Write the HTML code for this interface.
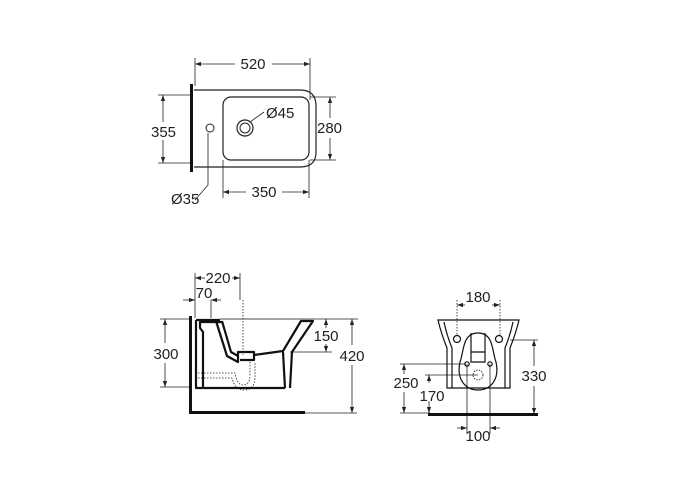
<!DOCTYPE html>
<html><head><meta charset="utf-8"><style>
html,body{margin:0;padding:0;background:#fff;}
svg{display:block;}
text{font-family:"Liberation Sans",sans-serif;font-size:15px;fill:#222;}
</style></head><body>
<svg width="700" height="500" viewBox="0 0 700 500" xmlns="http://www.w3.org/2000/svg">
<defs>
<marker id="a" viewBox="0 0 10 10" refX="10" refY="5" markerWidth="6" markerHeight="6" orient="auto-start-reverse" markerUnits="userSpaceOnUse"><path d="M0,1.5 L10,5 L0,8.5 Z" fill="#222"/></marker>
</defs>
<g stroke="#222" stroke-width="0.8" fill="none">
<!-- TOP VIEW -->
<line x1="195" y1="58" x2="195" y2="86"/>
<line x1="310" y1="58" x2="310" y2="100"/>
<line x1="195" y1="64" x2="235" y2="64" marker-start="url(#a)"/>
<line x1="272" y1="64" x2="310" y2="64" marker-end="url(#a)"/>
<line x1="158" y1="95" x2="190" y2="95"/>
<line x1="158" y1="163" x2="190" y2="163"/>
<line x1="163" y1="95" x2="163" y2="122" marker-start="url(#a)"/>
<line x1="163" y1="140" x2="163" y2="163" marker-end="url(#a)"/>
<line x1="310" y1="97" x2="336" y2="97"/>
<line x1="310" y1="160" x2="336" y2="160"/>
<line x1="330" y1="97" x2="330" y2="118" marker-start="url(#a)"/>
<line x1="330" y1="138" x2="330" y2="160" marker-end="url(#a)"/>
<line x1="223" y1="160" x2="223" y2="198"/>
<line x1="309" y1="160" x2="309" y2="198"/>
<line x1="223" y1="192" x2="246" y2="192" marker-start="url(#a)"/>
<line x1="282" y1="192" x2="309" y2="192" marker-end="url(#a)"/>
<path d="M194,90 L300,90 Q316,90 316,106 L316,152 Q316,167 300,167 L194,167" stroke-width="1.2"/>
<rect x="223" y="97" width="86" height="63" rx="8" stroke-width="1.2"/>
<circle cx="245" cy="128" r="8" stroke-width="1.2"/>
<circle cx="245" cy="128" r="5" stroke-width="1"/>
<line x1="250" y1="122" x2="264" y2="112"/>
<circle cx="210" cy="128" r="4" stroke-width="1"/>
<path d="M208,133 L208,185 L195,200"/>
</g>
<rect x="190" y="84" width="3" height="88" fill="#111"/>
<text x="253" y="69" text-anchor="middle">520</text>
<text x="151" y="137">355</text>
<text x="317" y="133">280</text>
<text x="264" y="197" text-anchor="middle">350</text>
<text x="266" y="118">Ø45</text>
<text x="171" y="204">Ø35</text>

<!-- SIDE VIEW -->
<g stroke="#222" stroke-width="0.8" fill="none">
<line x1="195" y1="273" x2="195" y2="318"/>
<line x1="240" y1="273" x2="240" y2="300"/>
<line x1="243" y1="300" x2="243" y2="355" stroke-dasharray="1.5,1.5"/>
<line x1="195" y1="278" x2="205" y2="278" marker-start="url(#a)"/>
<line x1="232" y1="278" x2="240" y2="278" marker-end="url(#a)"/>
<line x1="183" y1="300" x2="195" y2="300" marker-end="url(#a)"/>
<line x1="221" y1="300" x2="211" y2="300" marker-end="url(#a)"/>
<line x1="211" y1="300" x2="211" y2="318"/>
<line x1="160" y1="319" x2="190" y2="319"/>
<line x1="160" y1="387" x2="190" y2="387"/>
<line x1="165" y1="319" x2="165" y2="343" marker-start="url(#a)"/>
<line x1="165" y1="363" x2="165" y2="387" marker-end="url(#a)"/>
<line x1="300" y1="319" x2="358" y2="319"/>
<line x1="290" y1="352" x2="332" y2="352"/>
<line x1="326" y1="319" x2="326" y2="328" marker-start="url(#a)"/>
<line x1="326" y1="344" x2="326" y2="352" marker-end="url(#a)"/>
<line x1="352" y1="319" x2="352" y2="345" marker-start="url(#a)"/>
<line x1="352" y1="365" x2="352" y2="413" marker-end="url(#a)"/>
<line x1="305" y1="413" x2="357" y2="413"/>
<path d="M195,373 L235,373 Q237,385 243,385 Q250,385 250,375 L250,362" stroke-dasharray="1.5,1.5"/>
<path d="M195,378 L232,378 Q235,390 244,390 Q255,390 255,377 L255,362" stroke-dasharray="1.5,1.5"/>
<g stroke="#111" stroke-width="2.2" stroke-linejoin="round">
<path d="M196,320 L196,388 L285,388"/>
<path d="M203,388 L203,332 L200,328 L200,322 L222,322"/>
<path d="M196,320 L220,320"/>
<path d="M216,321 L227,356 L238,362 L238,352 L254,352 L254,360 L240,360"/>
<path d="M222,321 L231,352 L238,356"/>
<path d="M254,355 L283,351 L301,321 L313,321 L292,352 L290,388"/>
<path d="M283,352 L285,388"/>
<line x1="220" y1="319" x2="300" y2="319" stroke-width="0.8"/>
</g>
</g>
<rect x="189" y="316" width="3" height="98" fill="#111"/>
<rect x="189" y="411" width="116" height="3" fill="#111"/>
<text x="218" y="283" text-anchor="middle">220</text>
<text x="204" y="298" text-anchor="middle">70</text>
<text x="166" y="359" text-anchor="middle">300</text>
<text x="326" y="341" text-anchor="middle">150</text>
<text x="352" y="361" text-anchor="middle">420</text>

<!-- FRONT VIEW -->
<g stroke="#222" stroke-width="0.8" fill="none">
<line x1="457" y1="300" x2="457" y2="336" stroke-dasharray="1.5,1.5"/>
<line x1="500" y1="300" x2="500" y2="336" stroke-dasharray="1.5,1.5"/>
<line x1="457" y1="305" x2="465" y2="305" marker-start="url(#a)"/>
<line x1="492" y1="305" x2="500" y2="305" marker-end="url(#a)"/>
<line x1="510" y1="340" x2="538" y2="340"/>
<line x1="534" y1="340" x2="534" y2="366" marker-start="url(#a)"/>
<line x1="534" y1="386" x2="534" y2="414" marker-end="url(#a)"/>
<line x1="400" y1="364" x2="466" y2="364"/>
<line x1="425" y1="375" x2="478" y2="375"/>
<line x1="404" y1="364" x2="404" y2="374" marker-start="url(#a)"/>
<line x1="404" y1="392" x2="404" y2="413" marker-end="url(#a)"/>
<line x1="429" y1="375" x2="429" y2="383" marker-start="url(#a)"/>
<line x1="429" y1="401" x2="429" y2="413" marker-end="url(#a)"/>
<line x1="400" y1="413" x2="430" y2="413"/>
<line x1="467" y1="364" x2="467" y2="434"/>
<line x1="490" y1="364" x2="490" y2="434"/>
<line x1="457" y1="428" x2="467" y2="428" marker-end="url(#a)"/>
<line x1="500" y1="428" x2="490" y2="428" marker-end="url(#a)"/>
<g stroke="#111" stroke-width="1.2">
<path d="M438,320 L519,320 Q516,333 510,348 L510,388 L447,388 L447,348 Q441,333 438,320 Z"/>
<path d="M444,322 Q447,336 452,348 L452,388 M513,322 Q510,336 505,348 L505,388"/>
<path d="M478,333 C462,333 464,352 460,362 C456,380 466,390 478,390 C490,390 500,380 496,362 C492,352 494,333 478,333 Z"/>
<path d="M471,333 L471,362 L485,362 L485,333 M471,352 L485,352"/>
<circle cx="457" cy="339" r="3.5"/>
<circle cx="499" cy="339" r="3.5"/>
<circle cx="467" cy="364" r="2.2"/>
<circle cx="490" cy="364" r="2.2"/>
<circle cx="478" cy="375" r="5" stroke-dasharray="1.5,1.2" stroke-width="0.8"/>
</g>
</g>
<rect x="428" y="413" width="110" height="3" fill="#111"/>
<text x="478" y="302" text-anchor="middle">180</text>
<text x="534" y="381" text-anchor="middle">330</text>
<text x="406" y="388" text-anchor="middle">250</text>
<text x="432" y="401" text-anchor="middle">170</text>
<text x="478" y="441" text-anchor="middle">100</text>
</svg>
</body></html>
